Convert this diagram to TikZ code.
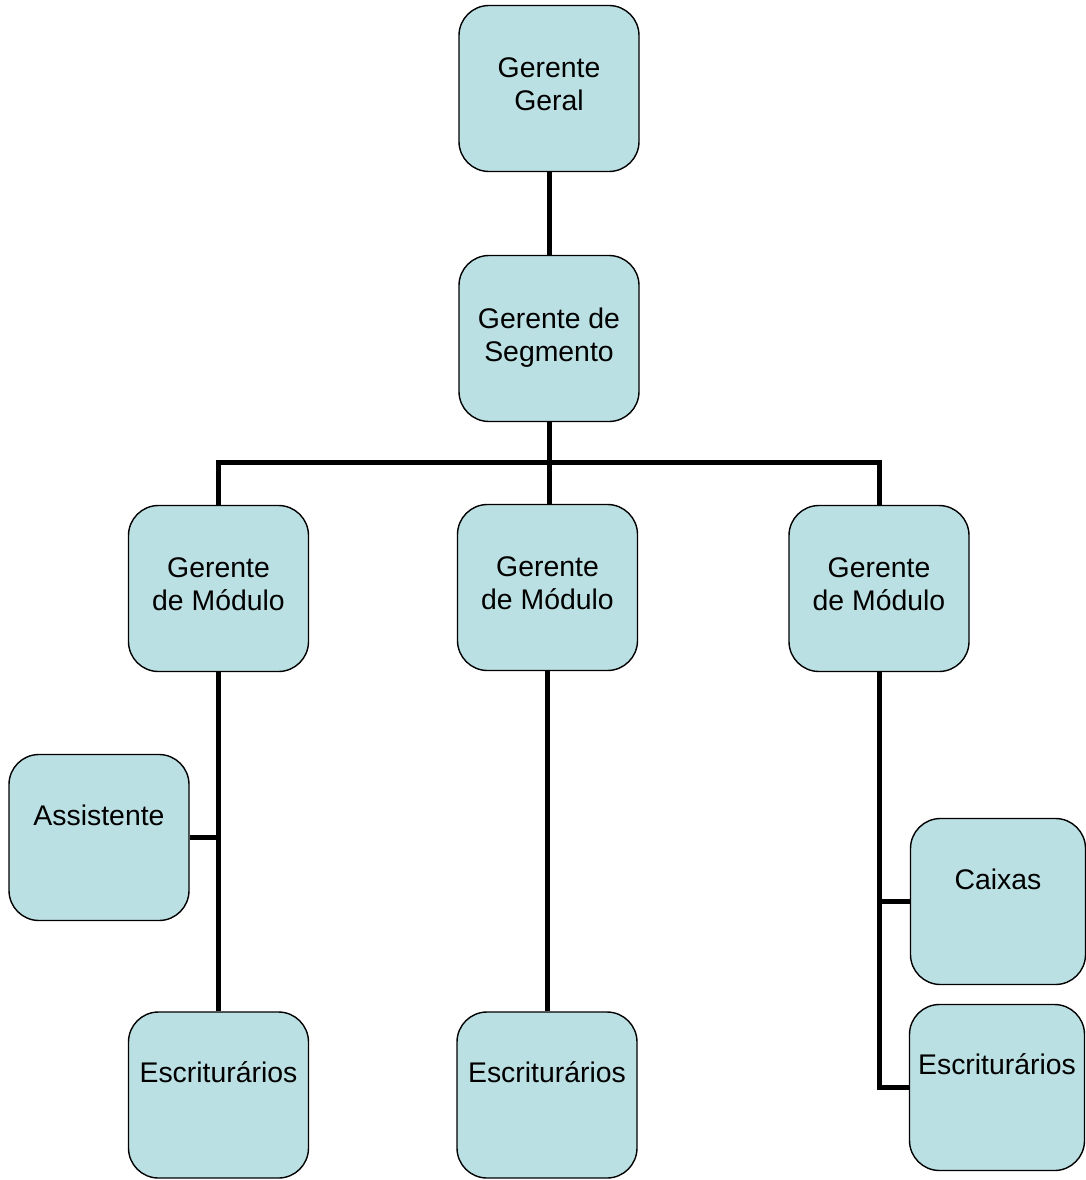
\documentclass[tikz,border=0pt]{standalone}
\usepackage{fontspec}
\setmainfont{Liberation Sans}
\usetikzlibrary{positioning}
\definecolor{boxfill}{RGB}{187,224,227}

\begin{document}
\begin{tikzpicture}[
  x=1pt,y=-1pt,
  box/.style={draw=black,line width=1.4pt,fill=boxfill,rounded corners=30pt,
    minimum width=180pt,minimum height=166pt,inner sep=0pt},
  txt/.style={align=center,inner sep=0pt,font=\fontsize{28.4}{33}\selectfont},
  conn/.style={line width=5pt}
]
\useasboundingbox (0,0) rectangle (1086,1180);
\coordinate (bus) at (0,462);
% boxes
\node[box] (gg)   at (549,88.5) {};
\node[box] (gs)   at (549,338.5) {};
\node[box] (gm1)  at (218.5,588.5) {};
\node[box] (gm2)  at (547.5,587.5) {};
\node[box] (gm3)  at (879,588.5) {};
\node[box] (ast)  at (99,837.5) {};
\node[box] (esc1) at (218.5,1095) {};
\node[box] (esc2) at (547,1095) {};
\node[box,minimum width=175pt] (cx)   at (998,901.5) {};
\node[box,minimum width=175pt] (esc3) at (997,1087.5) {};
% texts
\node[txt,below=53pt of gg.north]   {Gerente\\Geral};
\node[txt,below=53pt of gs.north]   {Gerente de\\Segmento};
\node[txt,below=53pt of gm1.north]  {Gerente\\de Módulo};
\node[txt,below=53pt of gm2.north]  {Gerente\\de Módulo};
\node[txt,below=53pt of gm3.north]  {Gerente\\de Módulo};
\node[txt,below=51pt of ast.north]  {Assistente};
\node[txt,below=50pt of esc1.north] {Escriturários};
\node[txt,below=50pt of esc2.north] {Escriturários};
\node[txt,below=51pt of cx.north]   {Caixas};
\node[txt,below=50pt of esc3.north] {Escriturários};
% connectors
\draw[conn] (gg.south) -- (gs.north);
\draw[conn] (gs.south) -- (gs.south |- gm2.north);
\draw[conn] (gm1.north) |- (gm3.north |- bus) -- (gm3.north);
\draw[conn] (gm1.south) -- (esc1.north);
\draw[conn] (ast.east) -- (ast.east -| gm1.south);
\draw[conn] (gm2.south) -- (gm2.south |- esc2.north);
\draw[conn] (gm3.south) |- (esc3.west);
\draw[conn] (cx.west) -- (cx.west -| gm3.south);
\end{tikzpicture}
\end{document}
